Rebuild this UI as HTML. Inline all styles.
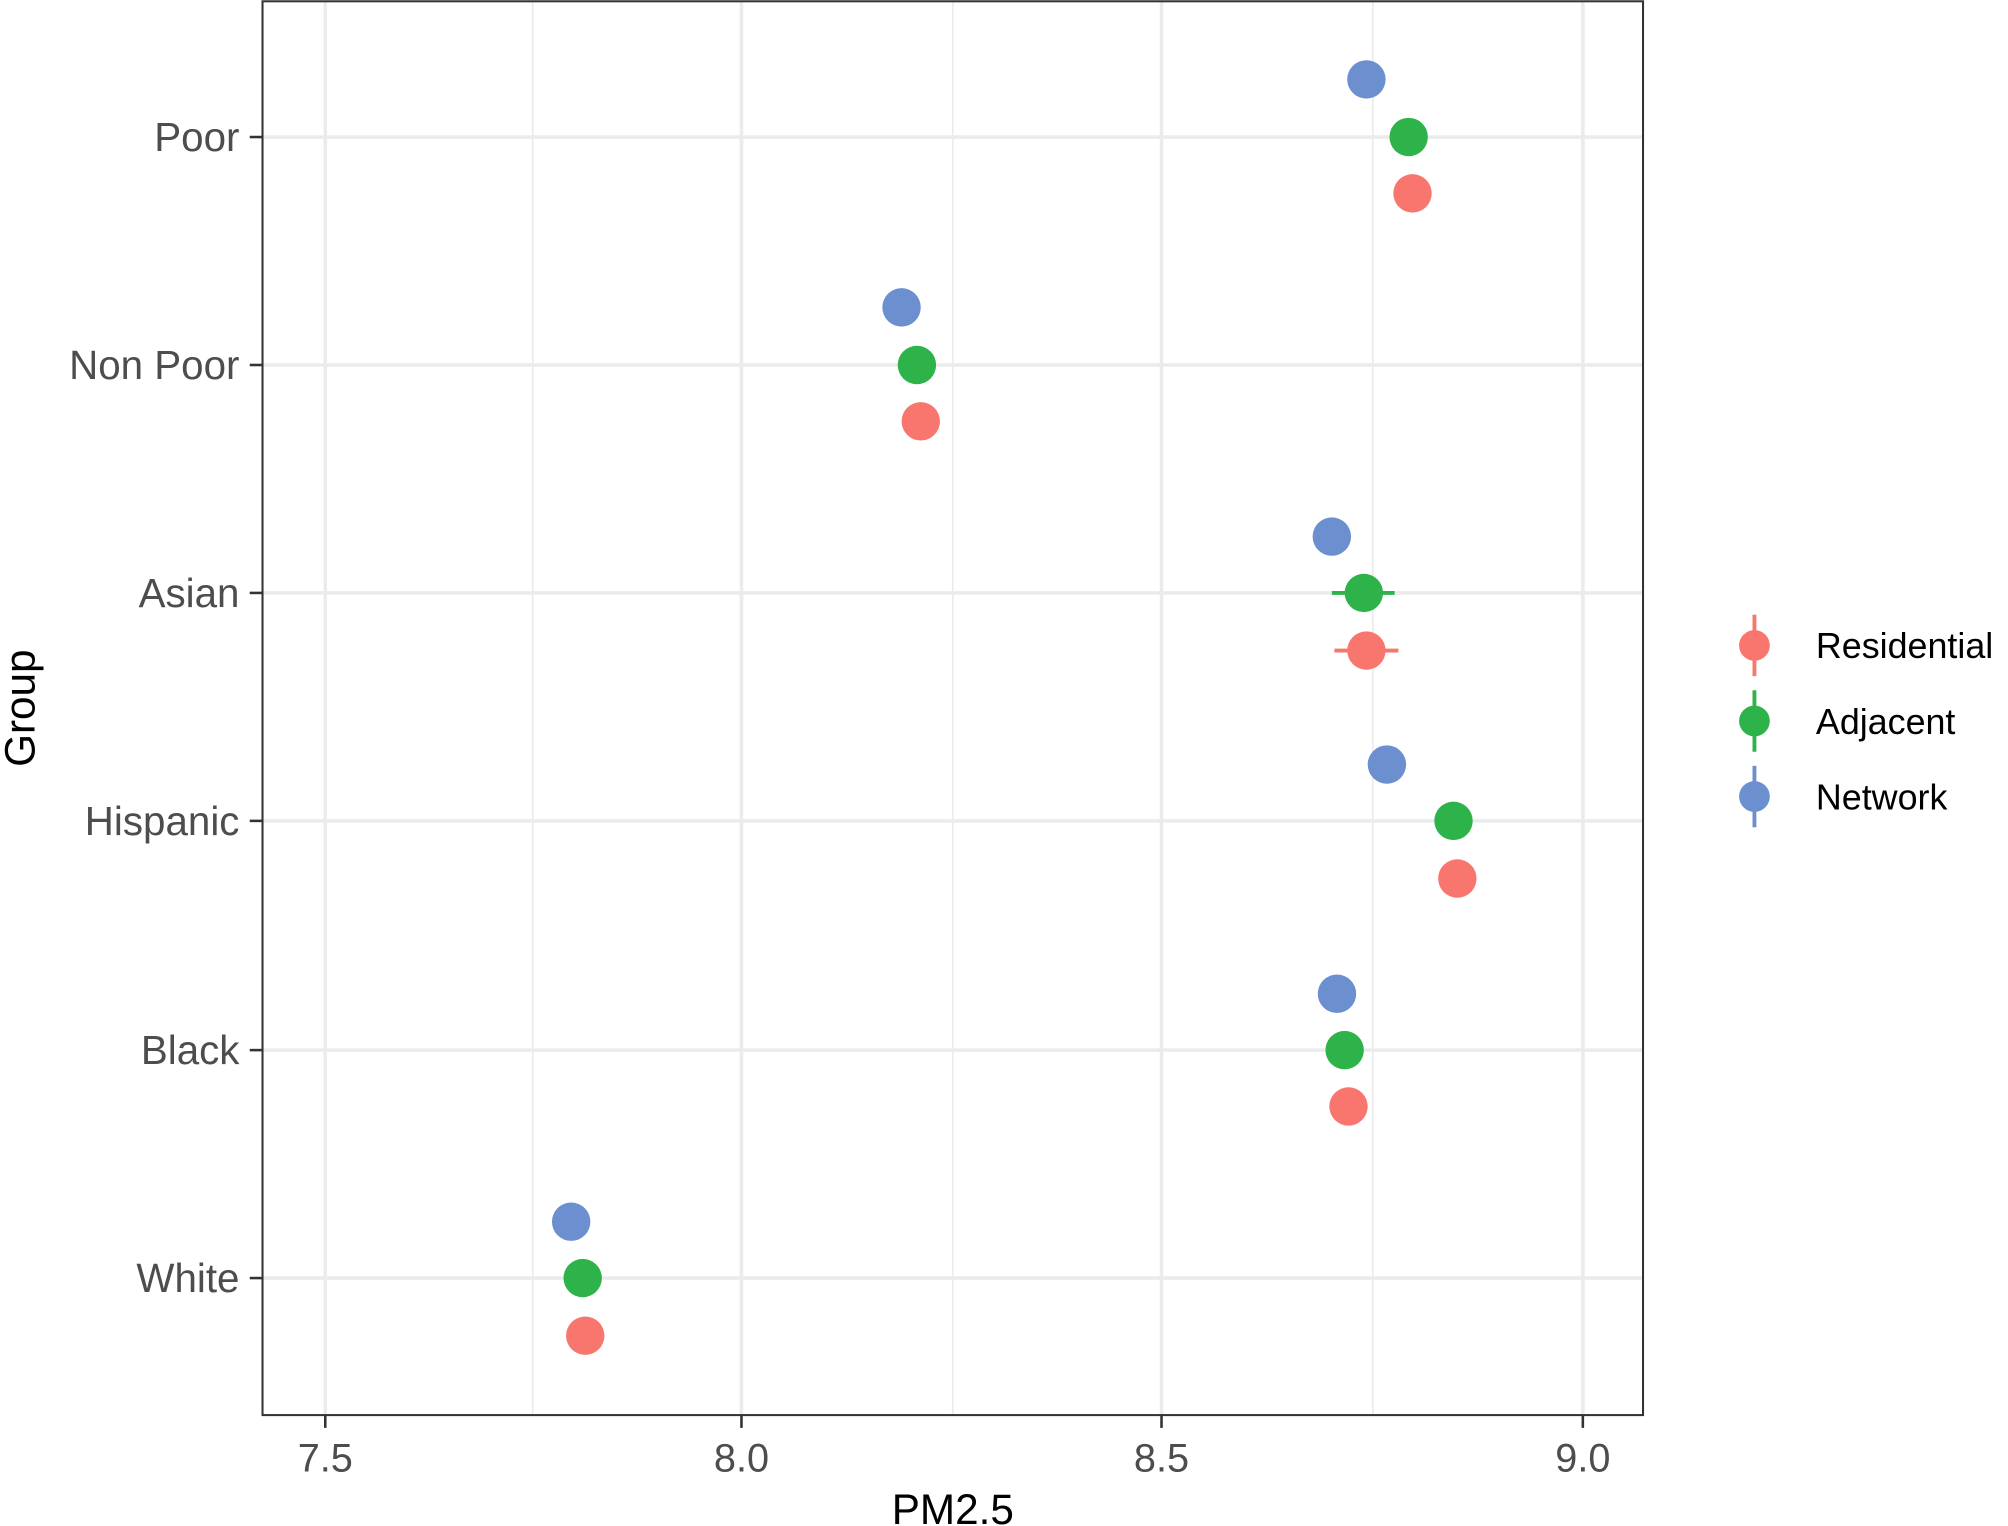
<!DOCTYPE html>
<html><head><meta charset="utf-8"><style>html,body{margin:0;padding:0;background:#fff}svg{display:block}</style></head>
<body>
<svg width="2008" height="1526" viewBox="0 0 1568 1191.6" xmlns="http://www.w3.org/2000/svg" font-family="Liberation Sans, Arial, sans-serif">
<rect width="1568" height="1191.6" fill="#fff"/>
<g stroke="#ebebeb" stroke-width="1.3">
<line x1="416" y1="1" x2="416" y2="1105"/><line x1="744" y1="1" x2="744" y2="1105"/><line x1="1072" y1="1" x2="1072" y2="1105"/>
</g>
<g stroke="#ebebeb" stroke-width="2.8">
<line x1="254" y1="1" x2="254" y2="1105"/><line x1="579" y1="1" x2="579" y2="1105"/><line x1="907" y1="1" x2="907" y2="1105"/><line x1="1236" y1="1" x2="1236" y2="1105"/>
<line x1="205" y1="107" x2="1283" y2="107"/><line x1="205" y1="285" x2="1283" y2="285"/><line x1="205" y1="463" x2="1283" y2="463"/><line x1="205" y1="641" x2="1283" y2="641"/><line x1="205" y1="820" x2="1283" y2="820"/><line x1="205" y1="998" x2="1283" y2="998"/>
</g>
<rect x="205" y="1" width="1078" height="1104" fill="none" stroke="#333" stroke-width="1.6"/>
<g stroke="#333" stroke-width="2">
<line x1="195" y1="107" x2="205" y2="107"/><line x1="195" y1="285" x2="205" y2="285"/><line x1="195" y1="463" x2="205" y2="463"/><line x1="195" y1="641" x2="205" y2="641"/><line x1="195" y1="820" x2="205" y2="820"/><line x1="195" y1="998" x2="205" y2="998"/>
<line x1="254" y1="1105" x2="254" y2="1115"/><line x1="579" y1="1105" x2="579" y2="1115"/><line x1="907" y1="1105" x2="907" y2="1115"/><line x1="1236" y1="1105" x2="1236" y2="1115"/>
</g>
<g font-size="31.5" fill="#4d4d4d" text-anchor="end">
<text x="187" y="118">Poor</text><text x="187" y="296">Non Poor</text><text x="187" y="474">Asian</text><text x="187" y="652">Hispanic</text><text x="187" y="831">Black</text><text x="187" y="1009">White</text>
</g>
<g font-size="31" fill="#4d4d4d" text-anchor="middle">
<text x="254" y="1149">7.5</text><text x="579" y="1149">8.0</text><text x="907" y="1149">8.5</text><text x="1236" y="1149">9.0</text>
</g>
<text x="744" y="1190" font-size="33" text-anchor="middle" fill="#000">PM2.5</text>
<text transform="translate(27,553) rotate(-90)" font-size="33" text-anchor="middle" fill="#000">Group</text>
<g stroke-width="3">
<line x1="1040" y1="463" x2="1089" y2="463" stroke="#2DB34A"/>
<line x1="1042" y1="508" x2="1092" y2="508" stroke="#F8766D"/>
</g>
<g fill="#6C8FD0">
<circle cx="1067" cy="62" r="15"/><circle cx="704" cy="240" r="15"/><circle cx="1040" cy="419" r="15"/><circle cx="1083" cy="597" r="15"/><circle cx="1044" cy="776" r="15"/><circle cx="446" cy="954" r="15"/>
</g>
<g fill="#2DB34A">
<circle cx="1100" cy="107" r="15"/><circle cx="716" cy="285" r="15"/><circle cx="1065" cy="463" r="15"/><circle cx="1135" cy="641" r="15"/><circle cx="1050" cy="820" r="15"/><circle cx="455" cy="998" r="15"/>
</g>
<g fill="#F8766D">
<circle cx="1103" cy="151" r="15"/><circle cx="719" cy="329" r="15"/><circle cx="1067" cy="508" r="15"/><circle cx="1138" cy="686" r="15"/><circle cx="1053" cy="864" r="15"/><circle cx="457" cy="1043" r="15"/>
</g>
<g stroke-width="3">
<line x1="1370" y1="480" x2="1370" y2="528" stroke="#F8766D"/>
<line x1="1370" y1="539" x2="1370" y2="587" stroke="#2DB34A"/>
<line x1="1370" y1="598" x2="1370" y2="646" stroke="#6C8FD0"/>
</g>
<circle cx="1370" cy="504" r="12" fill="#F8766D"/>
<circle cx="1370" cy="563" r="12" fill="#2DB34A"/>
<circle cx="1370" cy="622" r="12" fill="#6C8FD0"/>
<g font-size="28" fill="#000">
<text x="1418" y="514">Residential</text><text x="1418" y="573">Adjacent</text><text x="1418" y="632">Network</text>
</g>
</svg>
</body></html>
